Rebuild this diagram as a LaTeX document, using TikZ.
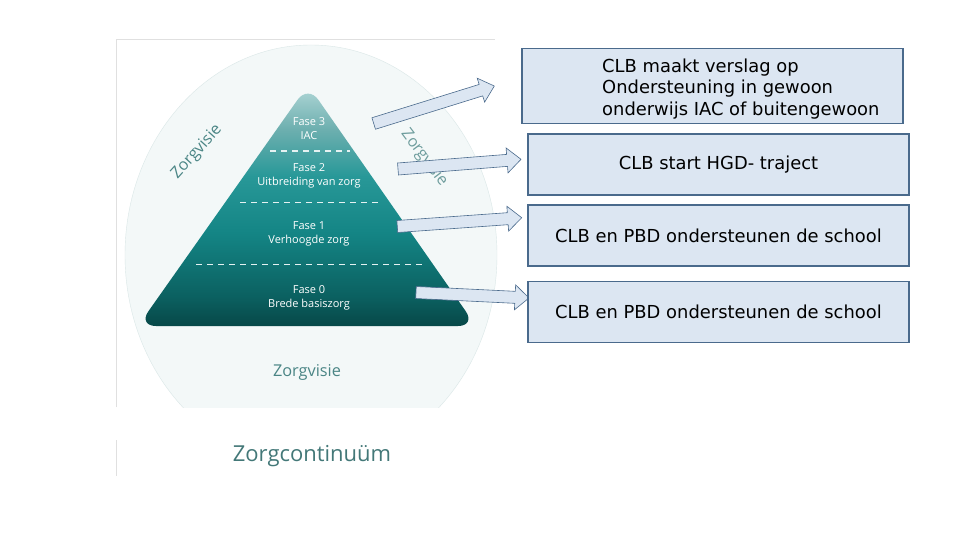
\documentclass[tikz,border=0pt]{standalone}
\usepackage{fontspec}
\setmainfont{DejaVu Sans}
\newfontfamily\opensans{Open Sans}
\usetikzlibrary{calc}
\definecolor{kader}{HTML}{4A6A8C}
\definecolor{vlak}{HTML}{DCE6F2}
\definecolor{zorgtekst}{HTML}{4A8585}
\definecolor{cirkel}{HTML}{F3F8F8}
\definecolor{topkleur}{HTML}{B2D8D8}
\definecolor{fasedrie}{HTML}{6FB0B0}
\definecolor{fasetwee}{HTML}{289898}
\definecolor{faseeen}{HTML}{148585}
\definecolor{fasenul}{HTML}{0B6060}
\definecolor{voetkleur}{HTML}{074848}
\pgfdeclareverticalshading{piramide}{100bp}{color(0bp)=(voetkleur); color(25bp)=(voetkleur);
    color(31bp)=(fasenul); color(44.3bp)=(faseeen); color(56.1bp)=(fasetwee); color(66.1bp)=(fasedrie);
    color(75bp)=(topkleur); color(100bp)=(topkleur)}

\begin{document}
\begin{tikzpicture}[x=1pt,y=-1pt,
        box/.style={draw=kader,line width=1.4pt,fill=vlak,minimum width=381pt,inner sep=0pt,
            font=\fontsize{17.9}{21.7}\selectfont},
        fase/.style={text=white,align=center,font=\opensans\fontsize{11}{14}\selectfont},
        visie/.style={text=zorgtekst,font=\opensans\fontsize{16}{18}\selectfont},
        blokpijl/.style={draw=kader,line width=0.6pt,fill=vlak,line join=miter}]
        \useasboundingbox[fill=white] (0,0) rectangle (960,540);
        \begin{scope}
            \clip (116,39) rectangle (497,407);
            \draw[cirkel!85!zorgtekst,fill=cirkel] (311,255) ellipse [x radius=186, y radius=210];
        \end{scope}
        \draw[black!12] (116,407) -- (116,39) -- (495,39);
        \draw[black!12] (116,440) -- (116,476);
        % piramide
        \shade[shading=piramide,rounded corners=18pt]
            (138,326) -- (308,85) -- (476,326) -- cycle;
        \foreach \y/\l/\r in {151/270/350, 202.7/240/382, 264.3/196/423}
        \draw[white!90!teal,line width=1.2pt,dash pattern=on 6pt off 5pt] (\l,\y) -- (\r,\y);
        \foreach \i/\y/\t in {3/128.3/{Fase 3\\IAC}, 2/176.3/{Fase 2\\Uitbreiding van zorg},
            1/233.7/{Fase 1\\Verhoogde zorg}, 0/297.5/{Fase 0\\Brede basiszorg}}
        \node[fase] (fase\i) at (309,\y) {\t};
        \node[visie,rotate=48] (visielinks) at (197,152) {Zorgvisie};
        \node[visie,rotate=-53,text=zorgtekst!80!white] (visierechts) at (424,158) {Zorgvisie};
        \node[visie,font=\opensans\fontsize{16.3}{20}\selectfont] (visieonder) at (307,372) {Zorgvisie};
        \node[text=zorgtekst!90!black,font=\opensans\fontsize{22}{26}\selectfont] (titel) at (312,456) {Zorgcontinuüm};
        % pijlen
        \coordinate (s1) at (373.7,123.5);
        \coordinate (p1) at (494.3,86);
        \coordinate (s2) at (398,169);
        \coordinate (p2) at (521,159.3);
        \coordinate (s3) at (397.3,226.5);
        \coordinate (p3) at (521.7,217.7);
        \coordinate (s4) at (416,292.5);
        \coordinate (p4) at (529,298);
        \foreach \i in {1,...,4} {
            \coordinate (n\i) at ($(p\i)!14pt!(s\i)$);
            \draw[blokpijl] ($(s\i)!6pt!90:(p\i)$) -- ($(n\i)!6pt!90:(p\i)$) -- ($(n\i)!12.5pt!90:(p\i)$)
                -- (p\i) -- ($(n\i)!12.5pt!-90:(p\i)$) -- ($(n\i)!6pt!-90:(p\i)$) -- ($(s\i)!6pt!-90:(p\i)$) -- cycle;
        }
        % kaders
        \node[box,minimum height=75pt] (verslag) at (712.5,85.8) {};
        \node[anchor=west,align=left,inner sep=0pt,font=\fontsize{17.9}{21.7}\selectfont] (verslagtekst) at (602,89)
            {CLB maakt verslag op\\Ondersteuning in gewoon\\onderwijs IAC of buitengewoon};
        \node[box,minimum height=61pt] (hgd) at (718.5,164.5) {CLB start HGD- traject};
        \node[box,minimum height=61pt] (pbd1) at (718.5,235.5) {CLB en PBD ondersteunen de school};
        \node[box,minimum height=60.6pt] (pbd0) at (718.5,312) {CLB en PBD ondersteunen de school};
    \end{tikzpicture}
\end{document}
